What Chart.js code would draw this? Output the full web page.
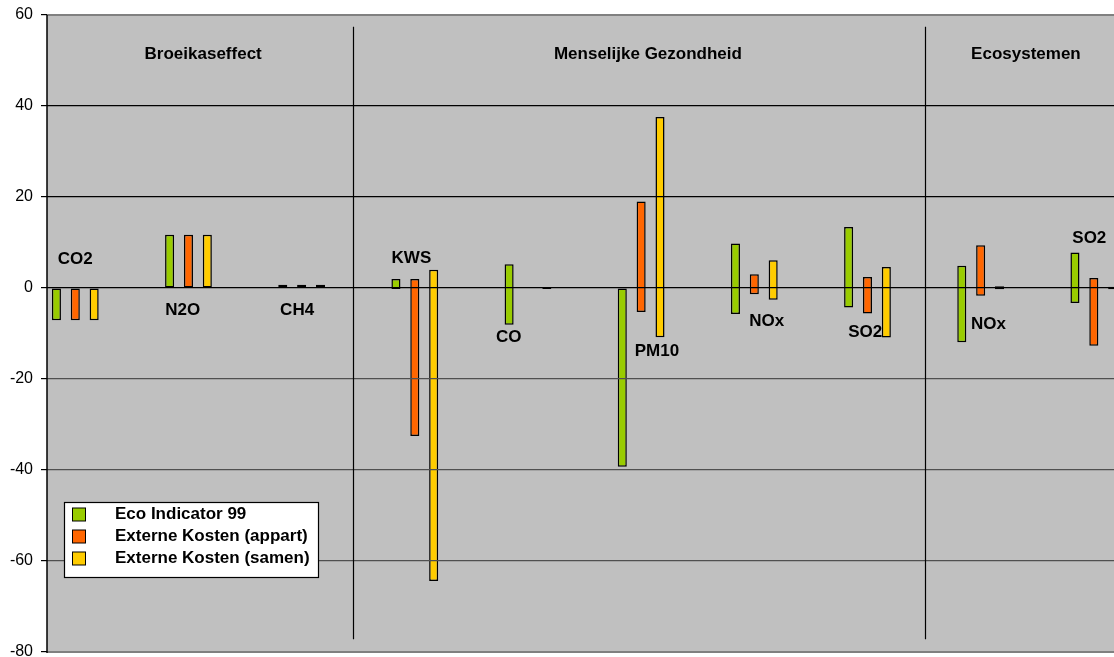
<!DOCTYPE html>
<html>
<head>
<meta charset="utf-8">
<script src="https://cdn.jsdelivr.net/npm/chart.js@4/dist/chart.umd.min.js"></script>
<style>
  html, body { margin: 0; padding: 0; background: #fff; overflow: hidden; }
  #wrap { position: relative; width: 1114px; height: 657px; }
</style>
</head>
<body>
<div id="wrap"><canvas id="c" width="1114" height="657"></canvas></div>
<script>
// ---- data ----
const categories = ['CO2', 'N2O', 'CH4', 'KWS', 'CO', 'PM10', 'NOx', 'SO2', 'NOx', 'SO2'];
const groupPositions = [0, 1, 2, 3, 4, 5, 6, 7, 8, 9];
const seriesNames = ['Eco Indicator 99', 'Externe Kosten (appart)', 'Externe Kosten (samen)'];
const ecoIndicator99 = [[-7.1, 0], [0, 11.7], [0, 0.7], [-0.2, 2.0], [-8.1, 5.2], [-39.3, 0], [-5.7, 9.8], [-4.3, 13.4], [-11.9, 4.9], [-3.3, 7.8]];
const externeAppart  = [[-7.1, 0], [0, 11.7], [0, 0.7], [-32.5, 2.0], null, [-5.3, 19.0], [-1.4, 3.0], [-5.6, 2.4], [-1.7, 9.4], [-12.7, 2.2]];
const externeSamen   = [[-7.1, 0], [0, 11.7], [0, 0.7], [-64.4, 4.0], [-0.2, 0.2], [-10.8, 37.6], [-2.6, 6.1], [-10.9, 4.6], [-0.3, 0.4], [-0.3, 0.3]];
const yTicks = [-80, -60, -40, -20, 0, 20, 40, 60];
// category label annotations: [x offset (group units), y (value)]
const categoryLabelPos = [[0, 6.2], [-0.05, -4.9], [-0.04, -4.9], [-0.03, 6.6], [-0.17, -10.8], [0.14, -14.0], [0.11, -7.3], [-0.02, -9.8], [0.07, -7.9], [-0.04, 11.0]];
const sections = ['Broeikaseffect', 'Menselijke Gezondheid', 'Ecosystemen'];
const sectionPos = [1.13, 5.06, 8.4];
const sectionY = 51.3;
const dividers = [2.45, 7.51];
const dividerRange = [57.4, -77.2];
const colors = ['#99CC00', '#FF6600', '#FFCC00'];

const toPoints = arr => arr.map((v, i) => ({ x: groupPositions[i], y: v }));
const seriesData = [ecoIndicator99, externeAppart, externeSamen];
const FONT = '"Liberation Sans", Arial, sans-serif';

const bgPlugin = {
  id: 'bg',
  beforeDraw(chart) {
    const { ctx, chartArea: a } = chart;
    ctx.save();
    ctx.fillStyle = '#C0C0C0';
    ctx.fillRect(a.left, a.top, a.right - a.left, a.bottom - a.top);
    ctx.restore();
  }
};

const annoPlugin = {
  id: 'anno',
  afterDraw(chart) {
    const { ctx, chartArea: a } = chart;
    const xs = chart.scales.x, ys = chart.scales.y;
    ctx.save();
    // borders top/bottom
    ctx.strokeStyle = '#808080';
    ctx.lineWidth = 2;
    ctx.beginPath();
    ctx.moveTo(a.left, a.top); ctx.lineTo(a.right, a.top);
    ctx.moveTo(a.left, a.bottom); ctx.lineTo(a.right, a.bottom);
    ctx.stroke();
    // left axis line
    ctx.strokeStyle = '#000';
    ctx.lineWidth = 1.5;
    ctx.beginPath();
    ctx.moveTo(a.left, a.top); ctx.lineTo(a.left, a.bottom + 1);
    ctx.stroke();
    // dividers
    ctx.lineWidth = 1.2;
    dividers.forEach(d => {
      const px = Math.round(xs.getPixelForValue(d)) + 0.5;
      ctx.beginPath();
      ctx.moveTo(px, ys.getPixelForValue(dividerRange[0]));
      ctx.lineTo(px, ys.getPixelForValue(dividerRange[1]));
      ctx.stroke();
    });
    // text
    ctx.fillStyle = '#000';
    ctx.textAlign = 'center';
    ctx.textBaseline = 'middle';
    ctx.font = 'bold 17px ' + FONT;
    sections.forEach((s, i) => {
      ctx.fillText(s, xs.getPixelForValue(sectionPos[i]), ys.getPixelForValue(sectionY));
    });
    categories.forEach((c, i) => {
      const p = categoryLabelPos[i];
      ctx.fillText(c, xs.getPixelForValue(groupPositions[i] + p[0]), ys.getPixelForValue(p[1]));
    });
    // legend box
    const lx = a.left + 17, ly = a.bottom - 150, lw = 254, lh = 75;
    ctx.fillStyle = '#fff';
    ctx.fillRect(lx, ly, lw, lh);
    ctx.strokeStyle = '#000';
    ctx.lineWidth = 1.2;
    ctx.strokeRect(lx + 0.5, ly + 0.5, lw, lh);
    ctx.textAlign = 'left';
    ctx.font = 'bold 17px ' + FONT;
    chart.data.datasets.forEach((ds, i) => {
      const cy = ly + 12.5 + i * 22;
      ctx.fillStyle = ds.backgroundColor;
      ctx.fillRect(lx + 8.5, cy - 6.5, 13, 13);
      ctx.strokeStyle = '#000';
      ctx.lineWidth = 1;
      ctx.strokeRect(lx + 8.5, cy - 6.5, 13, 13);
      ctx.fillStyle = '#000';
      ctx.fillText(ds.label, lx + 51, cy);
    });
    ctx.restore();
  }
};

new Chart(document.getElementById('c'), {
  type: 'bar',
  data: {
    datasets: seriesNames.map((name, i) => ({
      label: name,
      data: toPoints(seriesData[i]),
      backgroundColor: colors[i],
      borderColor: '#000',
      borderWidth: 1.5,
      borderSkipped: false,
      categoryPercentage: 0.5,
      barPercentage: 0.48
    }))
  },
  options: {
    responsive: false,
    animation: false,
    devicePixelRatio: 1,
    layout: { padding: { top: 15, bottom: 5, right: 0, left: 0 } },
    plugins: { legend: { display: false }, tooltip: { enabled: false } },
    scales: {
      x: {
        type: 'linear',
        min: -0.25,
        max: -0.25 + 1067 / 113.17,
        display: false,
        offset: false,
        ticks: { stepSize: 1, includeBounds: false },
        grid: { display: false }
      },
      y: {
        min: -80, max: 60,
        afterFit: s => { s.width = 47; s.paddingTop = 0; s.paddingBottom = 0; },
        afterBuildTicks: s => { s.ticks = yTicks.map(v => ({ value: v })); },
        ticks: {
          padding: 8,
          color: '#000',
          font: { family: FONT, size: 16 }
        },
        border: { display: false },
        grid: {
          z: 1,
          tickLength: 6,
          tickColor: '#000',
          color: c => (c.tick.value === 60 || c.tick.value === -80) ? 'rgba(0,0,0,0)' : (c.tick.value < 0 ? '#505050' : '#000'),
          lineWidth: 1.2
        }
      }
    }
  },
  plugins: [bgPlugin, annoPlugin]
});
</script>
</body>
</html>
